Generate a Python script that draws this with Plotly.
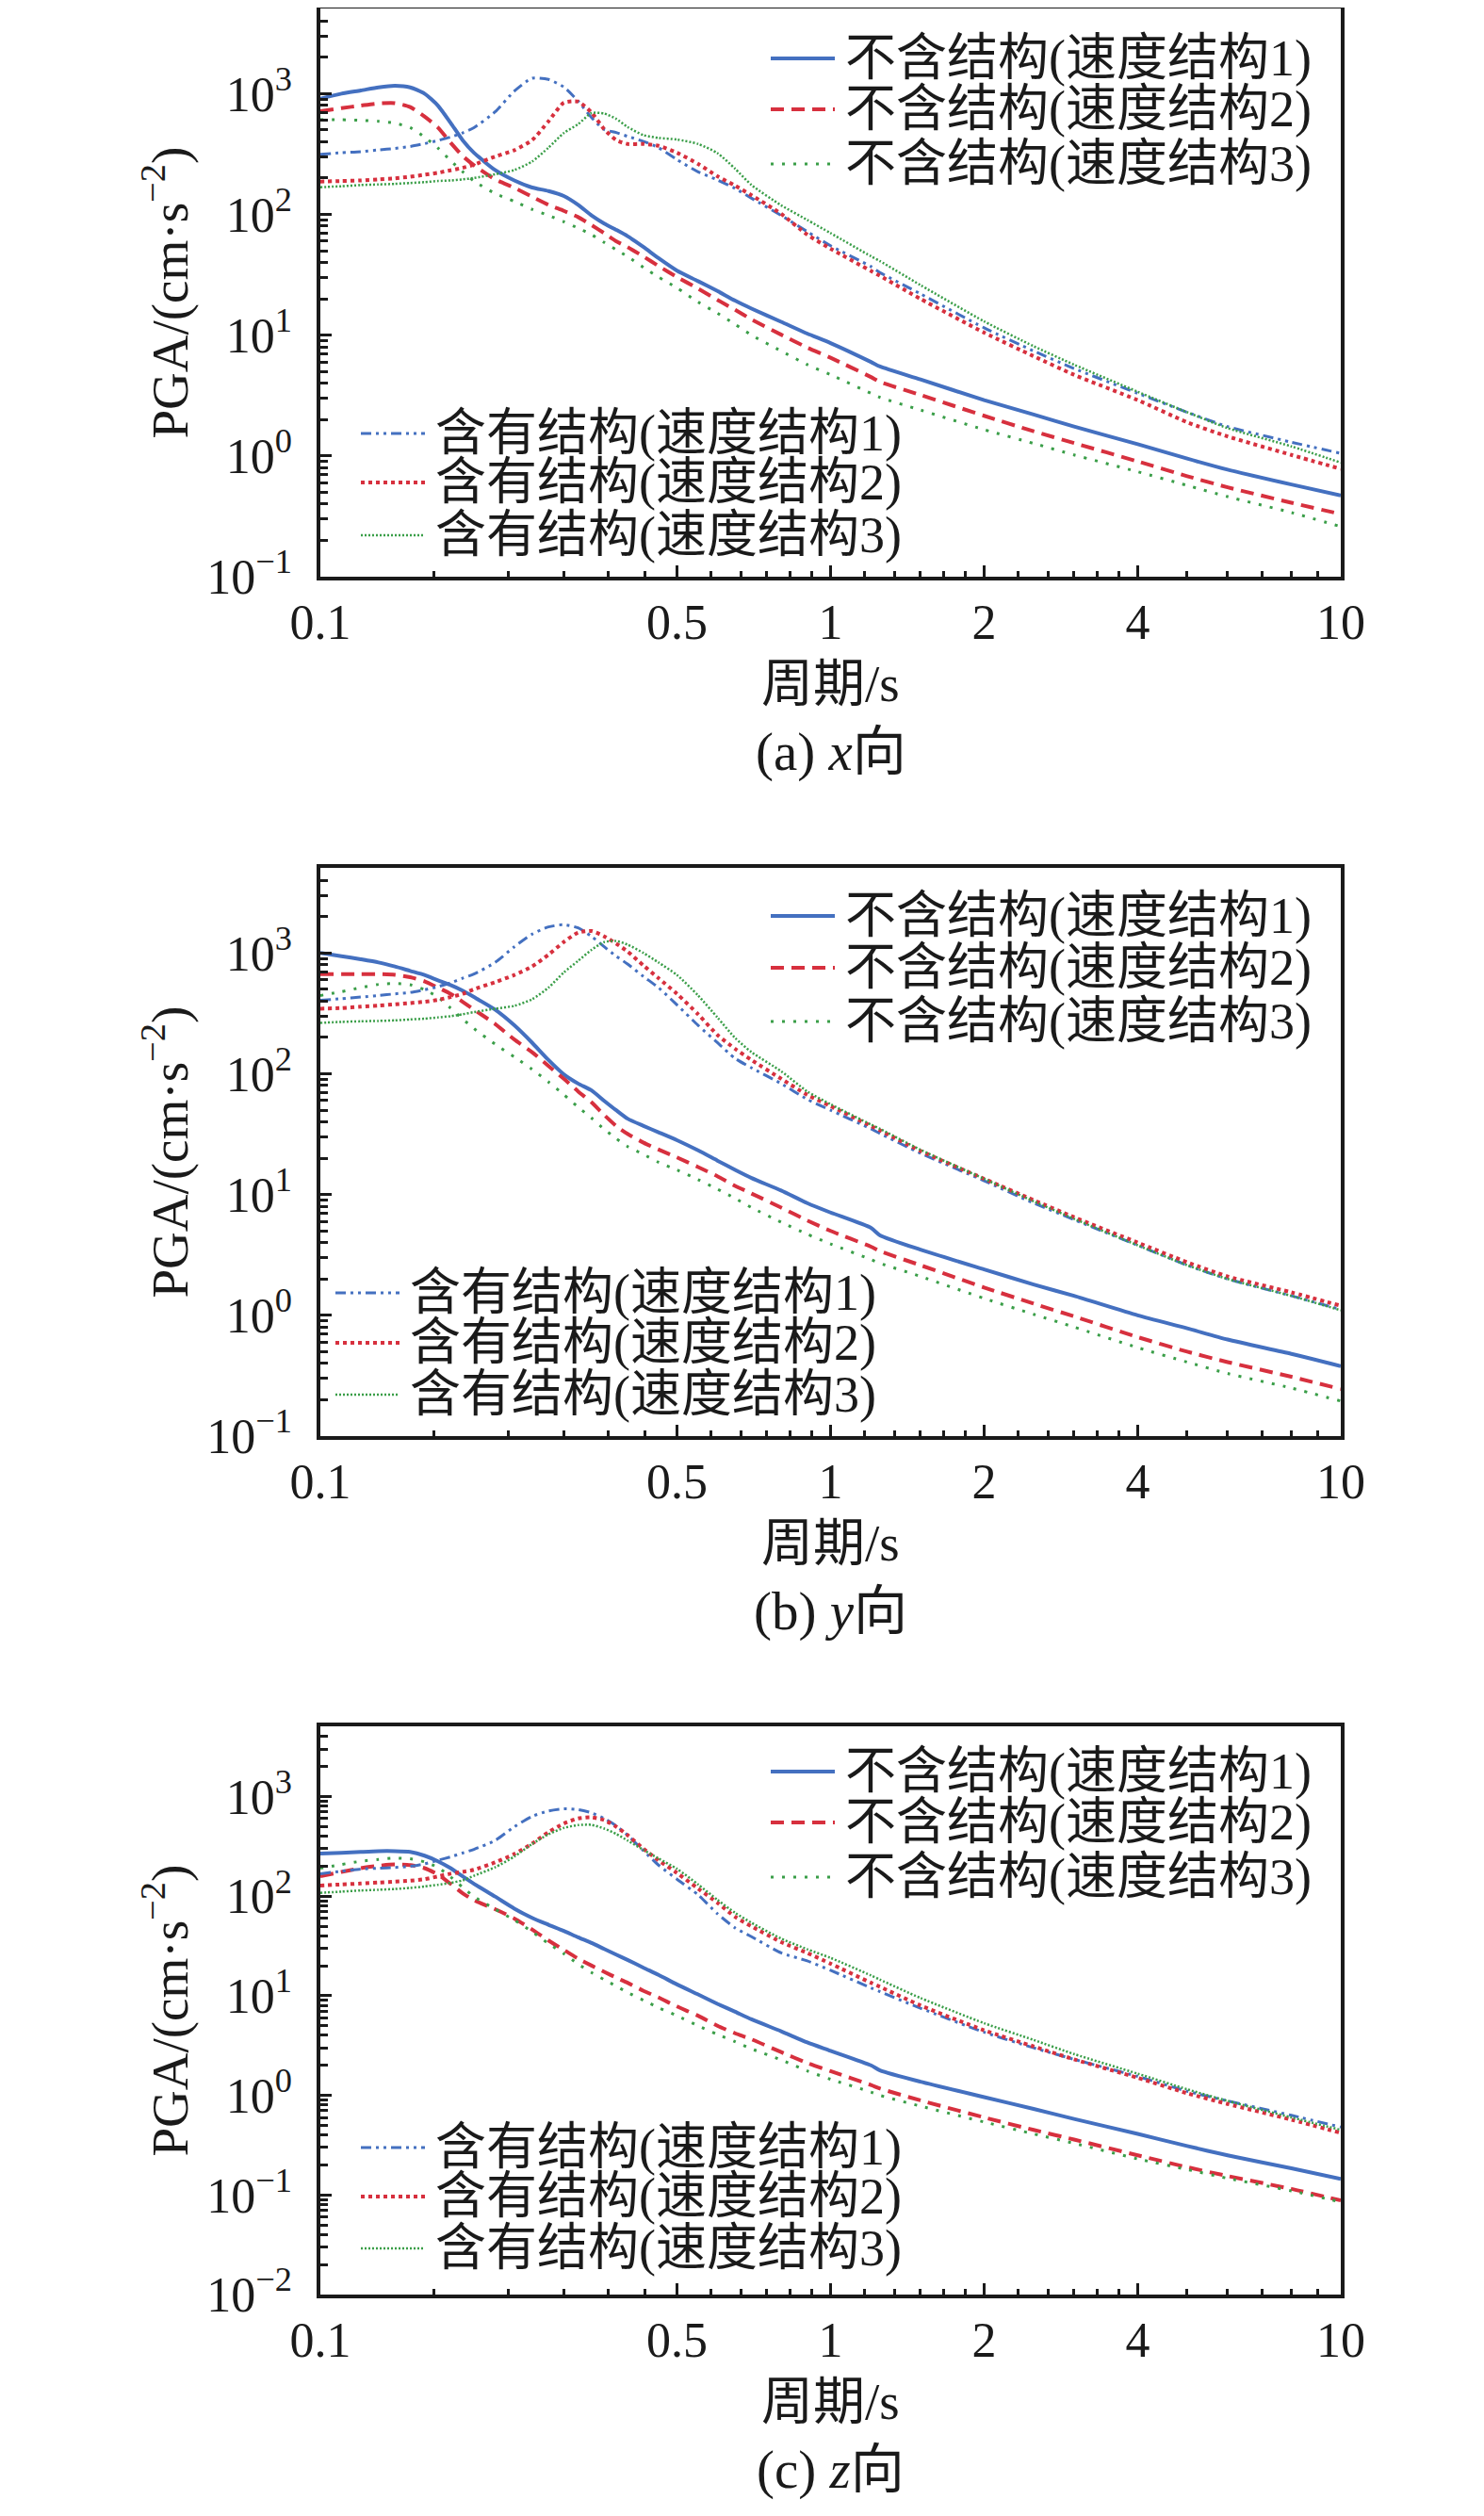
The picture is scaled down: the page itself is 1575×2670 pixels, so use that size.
import numpy as np
import plotly.graph_objects as go

# period grid (s), shared by every curve
period = [0.10, 0.11, 0.12, 0.13, 0.14, 0.15, 0.16, 0.17, 0.18, 0.19, 0.20,
          0.22, 0.24, 0.26, 0.28, 0.30, 0.32, 0.34, 0.36, 0.38, 0.40,
          0.43, 0.46, 0.50, 0.55, 0.60, 0.65, 0.70, 0.80, 0.90,
          1.0, 1.2, 1.25, 1.5, 2.0, 2.5, 3.0, 4.0, 5.0, 6.0, 8.0, 10.0]

# (a) x向
x_free_v1 = [908, 1000, 1062, 1127, 1162, 1127, 1000, 796, 573, 412, 324, 233, 191, 167, 156, 142, 120, 98, 84, 74.5, 66,
             53.6, 43.4, 34.2, 28, 23.2, 19.3, 16.6, 12.9, 10.3, 8.6, 6.0, 5.5, 4.3, 2.9, 2.2, 1.75, 1.25, 0.95, 0.77, 0.58, 0.47]
x_free_v2 = [714, 759, 796, 830, 835, 773, 646, 524, 393, 305, 255, 195, 166, 140, 120, 107, 95, 81.5, 70, 60, 53.6,
             44.8, 37.4, 30.3, 24.3, 19.6, 16.2, 13.5, 10.1, 7.9, 6.5, 4.5, 4.1, 3.2, 2.15, 1.6, 1.28, 0.9, 0.68, 0.55, 0.41, 0.33]
x_free_v3 = [608, 608, 601, 590, 569, 523, 437, 354, 279, 226, 189, 149, 128, 110, 98, 87, 77, 68, 58.6, 51, 44.8,
             36.3, 30.3, 24.6, 18.8, 15.2, 12.3, 10, 7.4, 5.7, 4.7, 3.3, 3.05, 2.4, 1.65, 1.27, 1.02, 0.74, 0.57, 0.46, 0.34, 0.26]
x_str_v1 = [314, 324, 331, 342, 352, 365, 385, 409, 437, 473, 523, 706, 1049, 1340, 1310, 1134, 866, 634, 505, 476, 443,
            402, 357, 284, 225, 193, 164, 136, 98, 72, 55, 37, 33, 22, 11.5, 7.4, 5.3, 3.3, 2.3, 1.75, 1.3, 1.05]
x_str_v2 = [187, 189, 191, 195, 199, 205, 213, 221, 232, 243, 258, 301, 340, 412, 590, 840, 860, 698, 508, 412, 383,
            383, 370, 324, 262, 207, 173, 144, 101, 68, 52, 34, 31, 20, 10.5, 6.7, 4.7, 2.9, 1.9, 1.45, 1.02, 0.78]
x_str_v3 = [168, 171, 175, 177, 179, 182, 185, 189, 191, 195, 200, 215, 233, 274, 357, 472, 558, 690, 685, 619, 530,
            453, 430, 417, 383, 322, 239, 175, 119, 90, 70, 45, 41, 26, 13, 8.1, 5.7, 3.4, 2.3, 1.7, 1.2, 0.88]

# (b) y向
y_free_v1 = [1000, 942, 887, 835, 773, 711, 658, 593, 542, 488, 432, 340, 252, 181, 130, 99, 83, 72.8, 59.7, 49.9, 42.5,
             37, 32.8, 28.2, 23.2, 19.1, 16, 13.7, 10.8, 8.5, 7.1, 5.3, 4.6, 3.5, 2.4, 1.8, 1.45, 1.0, 0.78, 0.63, 0.48, 0.38]
y_free_v2 = [669, 669, 669, 669, 661, 630, 583, 517, 459, 395, 340, 259, 192, 151, 116, 91, 71.5, 58, 45.6, 37, 31.8,
             26.9, 23.6, 20.3, 16.9, 14.2, 11.8, 10.2, 7.8, 6.1, 5.0, 3.7, 3.4, 2.6, 1.7, 1.25, 0.98, 0.66, 0.5, 0.41, 0.31, 0.245]
y_free_v3 = [445, 478, 517, 550, 559, 546, 496, 432, 350, 284, 237, 176, 138, 109, 85.5, 67.3, 53, 43, 34.8, 29.1, 25,
             21.5, 18.5, 16, 13.3, 11.1, 9.3, 7.8, 5.9, 4.7, 3.9, 2.9, 2.7, 2.1, 1.38, 1.02, 0.8, 0.54, 0.41, 0.33, 0.25, 0.195]
y_str_v1 = [406, 419, 432, 445, 459, 472, 496, 526, 566, 619, 669, 835, 1127, 1432, 1645, 1716, 1616, 1374, 1127, 942, 811,
            638, 517, 372, 252, 181, 134, 112, 83, 61.5, 50, 35, 32, 22, 13, 8.5, 6.2, 3.8, 2.6, 2.0, 1.45, 1.12]
y_str_v2 = [346, 350, 359, 367, 376, 385, 395, 409, 432, 459, 502, 573, 658, 773, 970, 1233, 1476, 1521, 1374, 1197, 1030,
            787, 619, 459, 311, 210, 161, 130, 91, 67, 54, 37, 34, 23, 13.5, 9, 6.5, 4.0, 2.75, 2.1, 1.55, 1.2]
y_str_v3 = [264, 269, 272, 274, 277, 282, 286, 293, 300, 311, 324, 346, 365, 414, 517, 690, 861, 1062, 1233, 1257, 1175,
            1000, 835, 658, 445, 293, 198, 151, 105, 71.5, 56, 38, 35, 23.5, 13.5, 8.8, 6.3, 3.8, 2.6, 2.0, 1.45, 1.1]

# (c) z向
z_free_v1 = [268, 272, 278, 283, 283, 278, 255, 224, 191, 158, 133, 99, 75, 60.6, 51.6, 44.7, 38.6, 33.9, 29.5, 25.9, 22.9,
             19.1, 16.2, 13, 10.3, 8.3, 6.9, 5.8, 4.4, 3.4, 2.8, 2.0, 1.78, 1.37, 0.96, 0.73, 0.58, 0.41, 0.31, 0.25, 0.185, 0.145]
z_free_v2 = [159, 175, 191, 202, 208, 205, 191, 165, 133, 107, 91, 74, 59.7, 46.3, 35.9, 28.9, 23.6, 20.1, 17.4, 15.2, 13.5,
             11.2, 9.6, 7.8, 6.3, 5.0, 4.2, 3.65, 2.72, 2.11, 1.75, 1.27, 1.17, 0.89, 0.6, 0.45, 0.36, 0.25, 0.19, 0.155, 0.115, 0.088]
z_free_v3 = [191, 208, 224, 234, 241, 237, 221, 194, 156, 123, 99, 74, 57.5, 44, 33.4, 26.5, 20.8, 17.1, 14.5, 12.5, 10.8,
             9.0, 7.6, 6.3, 5.0, 4.1, 3.46, 2.93, 2.27, 1.76, 1.45, 1.08, 1.0, 0.78, 0.54, 0.41, 0.33, 0.23, 0.18, 0.147, 0.11, 0.085]
z_str_v1 = [168, 178, 187, 191, 194, 199, 211, 229, 248, 271, 295, 362, 498, 632, 716, 753, 738, 686, 602, 509, 410,
            285, 205, 148, 103, 66.6, 48, 39.2, 26.9, 22.4, 18, 12, 11, 7.5, 4.3, 3.0, 2.3, 1.55, 1.1, 0.88, 0.63, 0.48]
z_str_v2 = [128, 131, 134, 137, 140, 143, 148, 158, 168, 175, 184, 218, 265, 337, 440, 536, 602, 619, 580, 498, 410,
            299, 229, 171, 119, 86, 62, 49.8, 34.6, 26.9, 21, 13.5, 12.3, 8.0, 4.5, 3.1, 2.3, 1.5, 1.05, 0.82, 0.57, 0.42]
z_str_v3 = [108, 111, 114, 116, 118, 121, 125, 130, 136, 144, 160, 195, 250, 334, 418, 484, 517, 520, 477, 422, 362,
            291, 239, 188, 131, 92, 68, 54, 37.5, 29.3, 24, 16, 14.5, 9.5, 5.3, 3.6, 2.6, 1.65, 1.15, 0.88, 0.6, 0.45]

names = ["不含结构(速度结构1)", "不含结构(速度结构2)", "不含结构(速度结构3)",
         "含有结构(速度结构1)", "含有结构(速度结构2)", "含有结构(速度结构3)"]
captions = ["(a) <i>x</i>向", "(b) <i>y</i>向", "(c) <i>z</i>向"]
x_ticks = [0.1, 0.5, 1, 2, 4, 10]

BLUE, RED, GREEN = "#4470c0", "#d7303e", "#3a9e48"
styles = [
    dict(color=BLUE, width=4),
    dict(color=RED, width=4, dash="14px,8px"),
    dict(color=GREEN, width=3, dash="3px,9px"),
    dict(color=BLUE, width=3, dash="11px,5px,3px,5px,3px,5px"),
    dict(color=RED, width=4, dash="4px,4px"),
    dict(color=GREEN, width=2.5, dash="2px,2px"),
]

W, H = 1575, 2670
X0, X1 = 332, 1415
SERIF = "Liberation Serif, Noto Sans CJK SC"
INK = "#1a1a1a"

panels = [
    dict(data=[x_free_v1, x_free_v2, x_free_v3, x_str_v1, x_str_v2, x_str_v3], top=1, bot=604, ymin=-1,
         up_rows=[54, 108, 166], lo_rows=[452, 504, 560], lo_x=375),
    dict(data=[y_free_v1, y_free_v2, y_free_v3, y_str_v1, y_str_v2, y_str_v3], top=913, bot=1516, ymin=-1,
         up_rows=[964, 1019, 1076], lo_rows=[1364, 1417, 1472], lo_x=348),
    dict(data=[z_free_v1, z_free_v2, z_free_v3, z_str_v1, z_str_v2, z_str_v3], top=1824, bot=2427, ymin=-2,
         up_rows=[1872, 1926, 1984], lo_rows=[2271, 2323, 2378], lo_x=375),
]


def px(x):
    return x / W


def py(y):
    return 1 - y / H


x_minor = []
for a, b in zip(x_ticks[:-1], x_ticks[1:]):
    x_minor += list(np.linspace(a, b, 7)[1:-1])

fig = go.Figure()
shapes, annotations = [], []

for i, p in enumerate(panels):
    sfx = "" if i == 0 else str(i + 1)
    for vals, st in zip(p["data"], styles):
        fig.add_trace(go.Scatter(x=period, y=vals, mode="lines", showlegend=False,
                                 line=dict(shape="spline", smoothing=0.6, **st),
                                 xaxis="x" + sfx, yaxis="y" + sfx))

    ytop = np.log10(5000) + 0.006
    decades = list(range(p["ymin"], 4))
    y_minor = [k * 10.0 ** d for d in decades for k in range(2, 10) if k * 10.0 ** d < 5000]
    ytext = ["10<sup>%s</sup>" % (str(d).replace("-", "\u2212")) for d in decades]

    axis_common = dict(showline=True, linewidth=3.5, linecolor=INK, mirror=True, automargin=False,
                       ticks="inside", ticklen=12, tickwidth=3, tickcolor=INK,
                       showgrid=False, zeroline=False,
                       tickfont=dict(family=SERIF, size=52, color=INK))
    fig.update_layout(**{
        "xaxis" + sfx: dict(type="log", range=[-1, 1], domain=[px(X0), px(X1)], anchor="y" + sfx,
                            tickmode="array", tickvals=x_ticks, ticktext=[str(t) for t in x_ticks],
                            ticklabelstandoff=0,
                            minor=dict(tickmode="array", tickvals=x_minor, ticks="inside",
                                       ticklen=6, tickwidth=2.5, tickcolor=INK),
                            **axis_common),
        "yaxis" + sfx: dict(type="log", range=[p["ymin"], ytop], domain=[py(p["bot"]), py(p["top"])],
                            anchor="x" + sfx, tickmode="array", tickvals=[10.0 ** d for d in decades],
                            ticktext=ytext, ticklabelstandoff=16,
                            minor=dict(tickmode="array", tickvals=y_minor, ticks="inside",
                                       ticklen=8, tickwidth=2.5, tickcolor=INK),
                            **axis_common),
    })

    # axis titles and caption
    mid = (p["top"] + p["bot"]) / 2
    annotations.append(dict(text="PGA/(cm·s<sup>\u22122</sup>)", x=px(168), y=py(mid), textangle=-90,
                            xref="paper", yref="paper", showarrow=False, xanchor="center", yanchor="middle",
                            font=dict(family=SERIF, size=55, color=INK)))
    annotations.append(dict(text="周期/s", x=px((X0 + X1) / 2), y=py(p["bot"] + 113),
                            xref="paper", yref="paper", showarrow=False, xanchor="center", yanchor="middle",
                            font=dict(family=SERIF, size=55, color=INK)))
    annotations.append(dict(text=captions[i], x=px((X0 + X1) / 2), y=py(p["bot"] + 186),
                            xref="paper", yref="paper", showarrow=False, xanchor="center", yanchor="middle",
                            font=dict(family=SERIF, size=57, color=INK)))

    # hand-placed legends: upper right (不含), lower left (含有)
    for k in range(3):
        for j, (rows, lx) in enumerate([(p["up_rows"], 810), (p["lo_rows"], p["lo_x"])]):
            idx = k + 3 * j
            yy = py(rows[k])
            shapes.append(dict(type="line", xref="paper", yref="paper", x0=px(lx), x1=px(lx + 68),
                               y0=yy, y1=yy, line=styles[idx]))
            annotations.append(dict(text=names[idx], x=px(lx + 77), y=yy, xref="paper", yref="paper",
                                    showarrow=False, xanchor="left", yanchor="middle",
                                    font=dict(family=SERIF, size=54, color=INK)))

fig.update_layout(width=W, height=H, autosize=False, margin=dict(l=0, r=0, t=0, b=0, pad=0),
                  paper_bgcolor="white", plot_bgcolor="white",
                  shapes=shapes, annotations=annotations)

fig.write_html("out.html")
